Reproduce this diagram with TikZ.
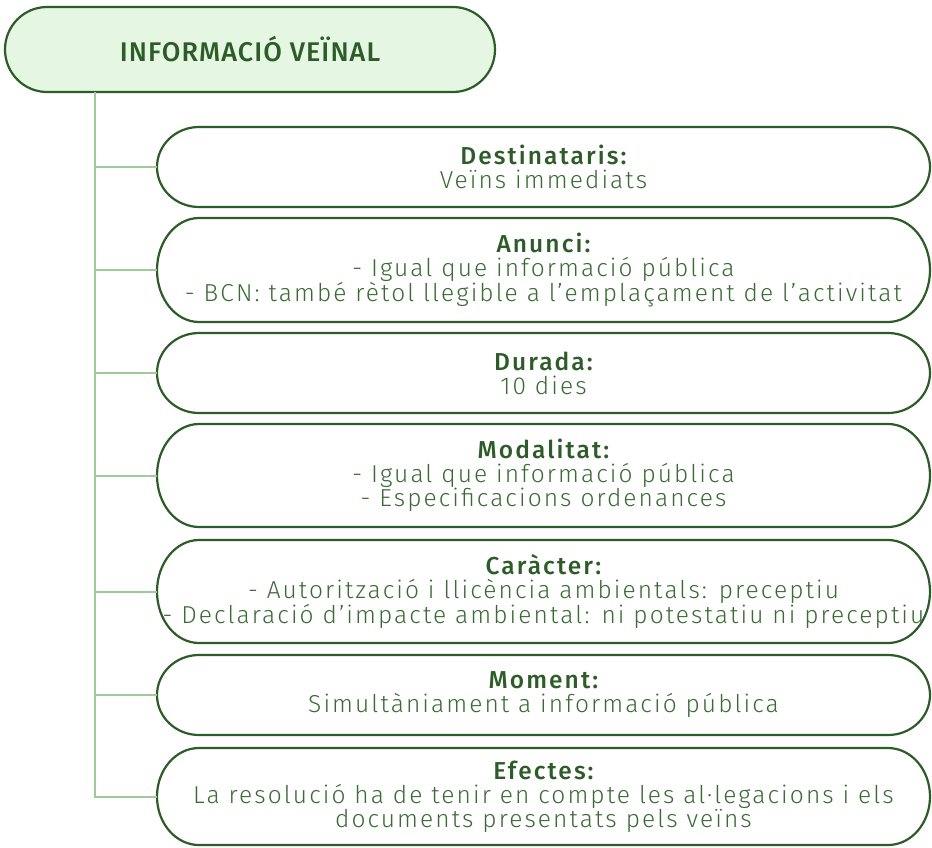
\documentclass[tikz,border=0pt]{standalone}
\usepackage{fontspec}
\setmainfont{Fira Sans}[UprightFont={* Light},BoldFont={* Medium},LetterSpace=8.5]
\newfontfamily\titlefont{Fira Sans}[UprightFont={* Medium},LetterSpace=4]
\usetikzlibrary{calc,backgrounds}
\definecolor{leafgreen}{HTML}{2D5C28}
\definecolor{textgreen}{HTML}{3B6A35}
\definecolor{stemgreen}{HTML}{9ECB98}
\definecolor{titlefill}{HTML}{E5F6E2}
\tikzset{
  pill/.style={rectangle,minimum width=773pt,inner sep=0pt,outer sep=0pt,align=center,
    text=textgreen,font=\fontsize{24.5}{24}\selectfont},
  pilledge/.style={draw=leafgreen,line width=2.2pt},
  stem/.style={draw=stemgreen,line width=2pt},
}
\newcommand{\boxhead}[1]{{\bfseries\color{leafgreen}#1}}
\begin{document}
\begin{tikzpicture}[x=1pt,y=-1pt]
\useasboundingbox (0,0) rectangle (932,847);
%title
\node[rectangle,minimum width=490pt,minimum height=85pt,inner sep=0pt,outer sep=0pt,
  text=leafgreen,font=\titlefont\fontsize{27}{30}\selectfont] (title) at (250,49.5) {INFORMACIÓ VEÏNAL};
%the seven items
\node[pill,minimum height=80pt] (dest) at (543.5,167) {\boxhead{Destinataris:}\\ Veïns immediats};
\node[pill,minimum height=104pt] (anunci) at (543.5,270) {\boxhead{Anunci:}\\ - Igual que informació pública\\ - BCN: també rètol llegible a l’emplaçament de l’activitat};
\node[pill,minimum height=80pt] (durada) at (543.5,373) {\boxhead{Durada:}\\ 10 dies};
\node[pill,minimum height=103pt] (modalitat) at (543.5,475.5) {\boxhead{Modalitat:}\\ - Igual que informació pública\\ - Especificacions ordenances};
\node[pill,minimum height=103pt] (caracter) at (543.5,591.5) {\boxhead{Caràcter:}\\ - Autorització i llicència ambientals: preceptiu\\ - Declaració d’impacte ambiental: ni potestatiu ni preceptiu};
\node[pill,minimum height=80pt] (moment) at (543.5,695) {\boxhead{Moment:}\\ Simultàniament a informació pública};
\node[pill,minimum height=97pt] (efectes) at (543.5,796.5) {\boxhead{Efectes:}\\ La resolució ha de tenir en compte les al·legacions i els\\ documents presentats pels veïns};
%outlines with round ends
\begin{pgfonlayer}{background}
\fill[titlefill] let \p1=(title.north west), \p2=(title.south east), \n1={(\y1-\y2)/2} in
  (\x1+42pt,\y1) -- (\x2-42pt,\y1) arc[start angle=90,end angle=-90,x radius=42pt,y radius=\n1]
  -- (\x1+42pt,\y2) arc[start angle=270,end angle=90,x radius=42pt,y radius=\n1] -- cycle;
\foreach \b in {title,dest,anunci,durada,modalitat,caracter,moment,efectes}
  \draw[pilledge] let \p1=(\b.north west), \p2=(\b.south east), \n1={(\y1-\y2)/2} in
    (\x1+42pt,\y1) -- (\x2-42pt,\y1) arc[start angle=90,end angle=-90,x radius=42pt,y radius=\n1]
    -- (\x1+42pt,\y2) arc[start angle=270,end angle=90,x radius=42pt,y radius=\n1] -- cycle;
\end{pgfonlayer}
%tree lines
\coordinate (trunk) at (95,92);
\draw[stem] (trunk) |- (efectes.west);
\draw[stem] (trunk |- dest.west) -- (dest.west);
\draw[stem] (trunk |- anunci.west) -- (anunci.west);
\draw[stem] (trunk |- durada.west) -- (durada.west);
\draw[stem] (trunk |- modalitat.west) -- (modalitat.west);
\draw[stem] (trunk |- caracter.west) -- (caracter.west);
\draw[stem] (trunk |- moment.west) -- (moment.west);
\end{tikzpicture}
\end{document}
